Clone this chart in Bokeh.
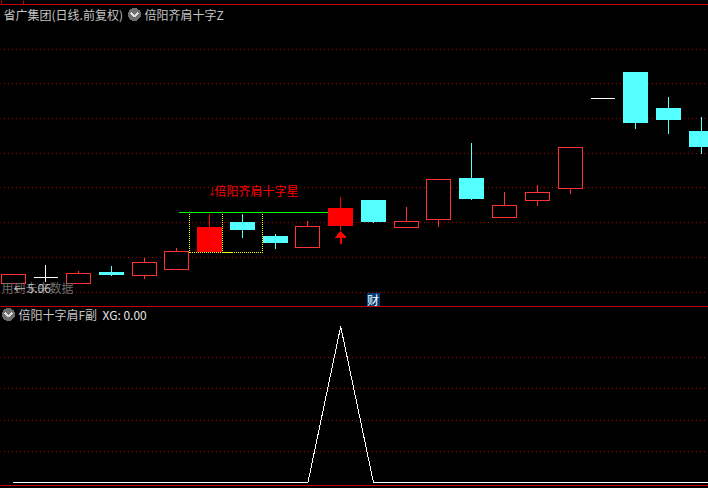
from bokeh.plotting import figure
from bokeh.models import Range1d
from bokeh.core.properties import value
from bokeh.embed import file_html
from bokeh.resources import INLINE

# ---- daily bars (index, open, high, low, close)
idx   = list(range(22))
opens = [5.032,5.056,5.032,5.076,5.064,5.088,5.160,5.276,5.220,5.176,5.264,5.364,5.256,5.288,5.452,5.296,5.364,5.412,5.772,5.876,5.732,5.640]
closes= [5.068,5.056,5.072,5.068,5.116,5.160,5.256,5.248,5.196,5.260,5.332,5.280,5.280,5.448,5.372,5.344,5.396,5.576,5.772,5.676,5.688,5.580]
highs = [5.068,5.108,5.084,5.104,5.136,5.176,5.312,5.312,5.232,5.284,5.380,5.368,5.340,5.448,5.596,5.400,5.428,5.576,5.772,5.876,5.780,5.700]
lows  = [5.032,5.040,5.032,5.064,5.052,5.088,5.160,5.216,5.172,5.176,5.248,5.276,5.256,5.260,5.368,5.296,5.344,5.392,5.772,5.652,5.632,5.552]
kinds = ["up","flat","up","down","up","up","solid","down","down","up","solid","down","up","up","down","up","up","up","flat","down","down","down"]

price_grid = [5.968,5.832,5.692,5.552,5.416,5.276,5.136,4.996]
xg_idx  = list(range(23))
xg_vals = [0,0,0,0,0,0,0,0,0,0,1,0,0,0,0,0,0,0,0,0,0,0,0]
xg_grid = [0.2,0.4,0.6,0.8]

title_main = "省广集团(日线.前复权)"
title_ind  = "倍阳齐肩十字Z"
sub_ind    = "倍阳十字肩F副"
sub_val    = "XG: 0.00"
signal     = "倍阳齐肩十字星"
warn       = "用到未来数据"
last_lbl   = "5.06"

FONT = value("Noto Sans CJK SC")
W, H = 708, 488

def fx(px):
    return (px - 12.6) / 32.76
def fy(py):
    return 6.164 - 0.004 * py

p = figure(width=W, height=H, output_backend="svg", toolbar_location=None,
           x_range=Range1d(fx(0), fx(W)), y_range=Range1d(fy(H), fy(0)),
           background_fill_color="black", border_fill_color="black",
           min_border=0, outline_line_color=None)
p.extra_y_ranges = {"xg": Range1d((482 - H) / 156, 482 / 156)}
p.axis.visible = False
p.grid.visible = False
p.styles = {"position": "fixed", "left": "0px", "top": "0px", "background-color": "black",
            "shape-rendering": "crispEdges"}

x0, x1 = fx(-1), fx(W + 1)
# dotted grids
GRID = "#b00000"
p.segment([x0]*len(price_grid), price_grid, [x1]*len(price_grid), price_grid,
          line_color=GRID, line_width=1, line_dash="1 3")
p.segment([x0]*len(xg_grid), xg_grid, [x1]*len(xg_grid), xg_grid,
          line_color=GRID, line_width=1, line_dash="1 3", y_range_name="xg")

# frame lines
red = "#c80000"
for py in (4, 306, 485):
    p.segment([x0], [fy(py)], [x1], [fy(py)], line_color=red, line_width=1)
p.segment([fx(1), fx(23)], [fy(-1)]*2, [fx(1), fx(23)], [fy(4)]*2, line_color=red, line_width=1)

# pattern helpers: green level and yellow dotted box
p.segment([fx(178)], [fy(212)], [fx(328)], [fy(212)], line_color="#00ff00", line_width=1)
for bx in (189, 222, 262):
    p.segment([fx(bx)], [fy(213)], [fx(bx)], [fy(252)], line_color="#ffff00", line_width=1, line_dash="1 1")
p.segment([fx(189)], [fy(252)], [fx(262)], [fy(252)], line_color="#ffff00", line_width=1, line_dash="1 1")
p.segment([fx(222)], [fy(252)], [fx(231)], [fy(252)], line_color="#ffff00", line_width=1)

# candles
CY, RD, SOLID, WH = "#54ffff", "#ff3232", "#ff0000", "#ffffff"
colors = {"up": RD, "solid": SOLID, "down": CY, "flat": WH}
bw = 24 / 32.76
for i, o, h, l, c, k in zip(idx, opens, highs, lows, closes, kinds):
    col = colors[k]
    p.segment([i], [h], [i], [l], line_color=col, line_width=1)
    top, bot = max(o, c), min(o, c)
    if k == "flat":
        p.segment([i - bw/2], [o], [i + bw/2], [o], line_color=col, line_width=1)
    elif k == "up":
        p.quad(left=[i - bw/2], right=[i + bw/2], top=[top], bottom=[bot],
               fill_color="black", line_color=col, line_width=1)
    else:
        p.quad(left=[i - bw/2], right=[i + bw/2], top=[top], bottom=[bot],
               fill_color=col, line_color=col, line_width=1)

# buy arrow under the signal bar
p.patch([10 - .16, 10, 10 + .16], [fy(237), fy(231), fy(237)], fill_color=SOLID, line_color=SOLID)
p.quad(left=[10 - .03], right=[10 + .03], top=[fy(236)], bottom=[fy(243)], fill_color=SOLID, line_color=None)

# indicator
p.line(xg_idx, xg_vals, line_color="white", line_width=1, y_range_name="xg")

# texts
def txt(x, y, s, color, size="12px"):
    p.text([fx(x)], [fy(y)], text=[s], text_color=color, text_font=FONT, text_font_size=size,
           text_baseline="middle", text_align="left")

def icon(x, y):
    p.scatter([fx(x)], [fy(y)], size=13, marker="circle", fill_color="#6e6e6e", line_color=None)
    p.line([fx(x - 3.5), fx(x), fx(x + 3.5)], [fy(y - 1.5), fy(y + 2), fy(y - 1.5)], line_color="#dddddd", line_width=1.5)

txt(3, 14, title_main, "#c4c4c4")
icon(134, 14)
txt(144, 14, title_ind, "#c4c4c4")
txt(1, 287, warn, "#6e6e6e")
txt(13, 288, "←", "#c0c0c0")
txt(27, 288, last_lbl, "#c0c0c0")
txt(207, 191, "↓", "#ff0000", "9px")
txt(214, 190, signal, "#ff0000")
p.quad(left=[fx(366)], right=[fx(379)], top=[fy(292)], bottom=[fy(305)], fill_color="#003c78", line_color=None)
txt(366.5, 298.5, "财", "#ffffff")
icon(8, 314)
txt(18, 314, sub_ind, "#c4c4c4")
txt(102, 314, sub_val, "#e6e6e6")

open("out.html", "w").write(file_html(p, INLINE))
